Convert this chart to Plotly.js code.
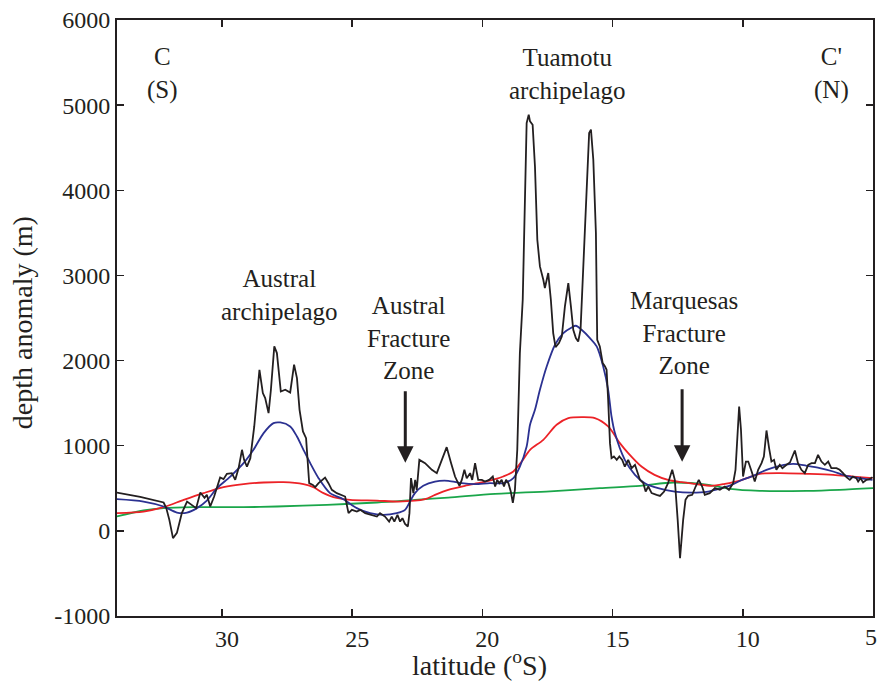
<!DOCTYPE html>
<html><head><meta charset="utf-8">
<script src="https://cdn.plot.ly/plotly-3.0.1.min.js"></script>
<style>html,body{margin:0;padding:0;background:#fff}</style>
</head><body><div id="chart" style="width:880px;height:685px"></div>
<script>
// observed depth anomaly (black)
const blackLat=[34.05,33.14,32.24,32.14,32.02,31.88,31.73,31.54,31.34,31.15,30.99,30.83,30.67,30.58,30.45,30.30,30.19,30.07,29.94,29.81,29.62,29.49,29.36,29.23,29.15,29.04,28.91,28.76,28.56,28.43,28.34,28.21,28.12,27.99,27.89,27.74,27.57,27.38,27.23,27.12,27.02,26.89,26.77,26.65,26.51,26.42,26.29,26.16,26.04,25.91,25.78,25.59,25.40,25.27,25.14,25.01,24.82,24.69,24.50,24.31,24.05,23.93,23.74,23.58,23.48,23.38,23.26,23.16,23.07,22.97,22.86,22.80,22.74,22.65,22.58,22.52,22.42,22.20,21.94,21.75,21.59,21.37,21.20,21.05,20.88,20.79,20.69,20.60,20.47,20.39,20.28,20.16,20.02,19.90,19.74,19.60,19.51,19.43,19.35,19.26,19.17,19.09,19.00,18.91,18.83,18.75,18.66,18.56,18.45,18.36,18.30,18.22,18.17,18.07,17.98,17.89,17.79,17.66,17.60,17.47,17.37,17.28,17.19,17.06,16.95,16.83,16.70,16.60,16.51,16.41,16.32,16.23,16.13,16.00,15.90,15.83,15.74,15.64,15.59,15.49,15.38,15.29,15.23,15.17,15.10,15.04,14.95,14.84,14.74,14.63,14.53,14.40,14.27,14.14,14.04,13.95,13.82,13.73,13.63,13.50,13.31,13.18,13.02,12.87,12.71,12.61,12.50,12.41,12.29,12.20,12.10,11.94,11.81,11.69,11.56,11.46,11.27,11.07,10.88,10.69,10.53,10.37,10.28,10.20,10.14,10.07,9.99,9.88,9.79,9.66,9.54,9.41,9.28,9.19,9.09,8.99,8.90,8.80,8.71,8.58,8.48,8.32,8.19,8.00,7.88,7.75,7.62,7.49,7.36,7.23,7.11,6.98,6.85,6.72,6.60,6.40,6.28,6.15,6.02,5.89,5.77,5.64,5.57,5.48,5.38,5.25,5.13,5.02];
const blackDepth=[450,400,333,270,129,-86,-24,208,344,306,267,450,388,423,286,403,521,626,607,670,678,599,737,952,834,755,854,1226,1892,1618,1559,1383,1657,2166,2088,1637,1657,1625,1951,1794,1422,1167,1089,560,540,513,560,599,626,560,482,443,423,403,208,247,227,247,208,188,168,208,168,109,168,109,188,109,149,82,51,208,619,443,599,482,834,795,717,678,814,983,795,638,529,599,717,619,678,599,795,599,599,579,599,638,521,599,560,599,521,599,560,462,330,482,952,2088,2714,3889,4790,4888,4809,4770,4280,3419,3106,2949,2852,3028,2714,2323,2158,2205,2283,2636,2910,2636,2362,2264,2224,2362,3106,4085,4673,4712,4359,3498,2244,2166,1970,1931,1892,1539,1030,854,873,834,873,834,755,834,737,776,678,599,560,462,521,443,423,411,462,560,717,599,129,-321,129,364,411,423,521,599,521,423,443,502,482,521,482,560,717,1187,1461,1187,638,814,814,697,579,717,795,873,1179,972,814,834,717,776,737,776,803,944,795,717,678,776,795,795,893,814,776,814,737,737,717,678,631,599,638,619,579,619,568,599,607,631];
// smoothed (blue)
const blueLat=[34.05,33.01,32.24,31.73,31.34,30.96,30.58,30.19,29.68,29.17,28.79,28.40,28.02,27.76,27.38,27.12,26.87,26.61,26.29,25.85,25.34,24.82,24.31,23.80,23.29,22.97,22.78,22.59,22.27,21.82,21.31,20.79,20.28,19.71,19.20,18.81,18.56,18.30,18.17,17.98,17.79,17.53,17.21,16.89,16.57,16.41,16.19,15.87,15.61,15.36,15.17,15.04,14.91,14.53,14.14,13.76,13.25,12.61,11.97,11.33,10.82,10.43,10.03,9.60,9.09,8.58,8.07,7.55,7.04,6.53,6.02,5.51,5.02];
const blueDepth=[372,344,286,215,215,267,356,502,638,795,952,1148,1265,1273,1226,1108,952,795,619,443,372,267,208,188,208,247,344,443,529,579,588,560,549,560,560,619,755,991,1246,1422,1657,1931,2186,2323,2389,2409,2362,2264,2166,1931,1657,1343,1148,834,658,560,502,462,450,462,502,540,599,646,717,764,787,764,737,697,646,619,599];
// smoothed (red)
const redLat=[34.05,33.01,32.24,31.47,30.71,29.94,29.17,28.40,27.64,26.87,26.49,26.10,25.72,25.08,24.05,23.22,22.20,21.82,21.31,20.67,20.03,19.51,19.20,18.81,18.49,18.17,17.66,17.15,16.70,16.13,15.68,15.17,14.72,14.40,13.89,13.39,12.87,12.35,11.84,11.20,10.69,10.11,9.73,9.35,8.58,7.55,6.53,5.77,5.02];
const redDepth=[208,227,278,364,443,513,549,568,572,549,513,443,396,364,356,344,372,423,482,529,568,607,638,697,814,952,1069,1246,1324,1336,1324,1226,1030,913,755,658,599,572,552,529,552,591,631,670,678,670,658,638,619];
// smoothed (green)
const greenLat=[34.05,33.01,32.24,31.09,29.17,27.89,25.97,24.05,22.59,21.31,19.51,17.40,15.49,13.95,12.67,11.32,10.50,9.35,7.55,6.28,5.00];
const greenDepth=[168,239,267,278,278,286,306,333,364,391,435,464,502,529,568,540,493,470,470,482,502];

// axis ticks (the last x label sits at the frame edge and is drawn as its own text)
const xTickVals=[30,25,20,15,10,5];
const xTickText=['30','25','20','15','10',''];
const xEdgeVal=5;
const xEdgeText='5';
const yTickVals=[-1000,0,1000,2000,3000,4000,5000,6000];
const yTickText=['-1000','0','1000','2000','3000','4000','5000','6000'];

// axis titles
const xTitle='latitude (<sup>o</sup>S)';
const yTitle='depth anomaly (m)';

// labels
const labelText=['C<br>(S)',"C'<br>(N)",'Tuamotu<br>archipelago','Austral<br>archipelago','Austral<br>Fracture<br>Zone','Marquesas<br>Fracture<br>Zone'];
const labelLat=[32.29,6.58,16.75,27.80,22.85,12.26];
const labelDepth=[5370,5370,5370,2773,2268,2327];
// arrows
const arrowLat=[22.96,12.33];
const arrowTip=[799,811];
const arrowTail=[1657,1680];

const FONT='"Liberation Serif","Times New Roman",serif';
const INK='#231f20';

const traces=[
  {x:greenLat,y:greenDepth,mode:'lines',line:{color:'#1aa64a',width:1.8,shape:'spline',smoothing:0.8},hoverinfo:'skip'},
  {x:redLat,y:redDepth,mode:'lines',line:{color:'#ec2227',width:1.8,shape:'spline',smoothing:0.8},hoverinfo:'skip'},
  {x:blueLat,y:blueDepth,mode:'lines',line:{color:'#2b3191',width:1.8,shape:'spline',smoothing:0.8},hoverinfo:'skip'},
  {x:blackLat,y:blackDepth,mode:'lines',line:{color:INK,width:1.8},hoverinfo:'skip'}
];

const annotations=[];
for(let i=0;i<labelText.length;i++){
  annotations.push({x:labelLat[i],y:labelDepth[i],xref:'x',yref:'y',text:labelText[i],showarrow:false,
    font:{family:FONT,size:25,color:INK},align:'center',xanchor:'center',yanchor:'middle'});
}
for(let i=0;i<arrowLat.length;i++){
  annotations.push({x:arrowLat[i],y:arrowTip[i],xref:'x',yref:'y',ax:arrowLat[i],ay:arrowTail[i],axref:'x',ayref:'y',
    text:'',showarrow:true,arrowhead:2,arrowsize:1.1,arrowwidth:3,arrowcolor:INK});
}
annotations.push({xref:'x',yref:'paper',x:xEdgeVal,y:-0.0352,xshift:-2,text:xEdgeText,showarrow:false,
  font:{family:FONT,size:24,color:INK},xanchor:'center',yanchor:'middle'});
annotations.push({xref:'paper',yref:'paper',x:0.479,y:-0.079,text:xTitle,showarrow:false,
  font:{family:FONT,size:28,color:INK},xanchor:'center',yanchor:'middle'});
annotations.push({xref:'paper',yref:'paper',x:-0.1257,y:0.493,text:yTitle,showarrow:false,textangle:-90,
  font:{family:FONT,size:28,color:INK},xanchor:'center',yanchor:'middle'});

const layout={
  width:880,height:685,
  margin:{l:117,r:7,t:20,b:69},
  paper_bgcolor:'#fff',plot_bgcolor:'#fff',
  showlegend:false,
  font:{family:FONT,size:24,color:INK},
  xaxis:{range:[34.03,5],tickmode:'array',tickvals:xTickVals,ticktext:xTickText,
    ticks:'inside',ticklen:7,tickwidth:1.5,tickcolor:INK,showline:true,linewidth:2,linecolor:INK,mirror:'ticks',
    showgrid:false,zeroline:false,tickfont:{family:FONT,size:24,color:INK},ticklabelshift:-5},
  yaxis:{range:[-1000,6000],tickmode:'array',tickvals:yTickVals,ticktext:yTickText,
    ticks:'inside',ticklen:7,tickwidth:1.5,tickcolor:INK,showline:true,linewidth:2,linecolor:INK,mirror:'ticks',
    showgrid:false,zeroline:false,tickfont:{family:FONT,size:24,color:INK}},
  annotations:annotations
};
Plotly.newPlot('chart',traces,layout,{displayModeBar:false,staticPlot:true});
</script>
</body></html>
